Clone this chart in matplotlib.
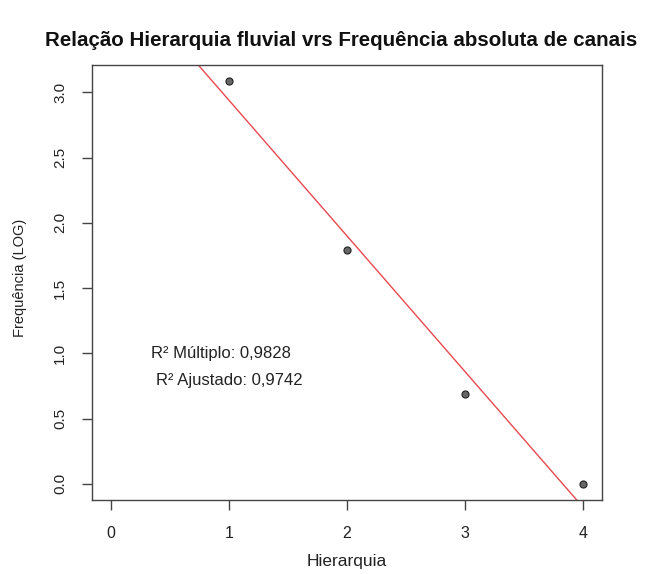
import numpy as np
import matplotlib
matplotlib.use("Agg")
import matplotlib.pyplot as plt

# dados
hierarquia = [1, 2, 3, 4]
freq_log = [3.09, 1.79, 0.69, 0.0]

# reta de regressao (lm)
intercepto = 3.98
inclinacao = -1.04

r2_texto = ["R² Múltiplo: 0,9828", "R² Ajustado: 0,9742"]
x_ticks = [0, 1, 2, 3, 4]
y_ticks = [0.0, 0.5, 1.0, 1.5, 2.0, 2.5, 3.0]

plt.rcParams['font.family'] = ['Liberation Sans', 'DejaVu Sans']
cor_eixo = '#444444'

fig = plt.figure(figsize=(6.45, 5.74), dpi=100)
ax = fig.add_axes([0.1426, 0.1289, 0.7907, 0.7579])

ax.axline((0, intercepto), slope=inclinacao, color='#e8494f', lw=1.0, zorder=2)
ax.scatter(hierarquia, freq_log, s=26, facecolor='#666666', edgecolor='#222222',
           linewidth=0.8, zorder=3)

ax.text(0.934, 1.0, r2_texto[0], ha='center', va='center', fontsize=12, color='#222222')
ax.text(1.0, 0.79, r2_texto[1], ha='center', va='center', fontsize=12, color='#222222')

ax.set_xlim(-0.16, 4.16)
ax.set_ylim(-0.124, 3.21)
ax.set_xticks(x_ticks)
ax.set_yticks(y_ticks)
ax.set_xticklabels([str(v) for v in x_ticks], fontsize=11.5)
ax.set_yticklabels(['%.1f' % v for v in y_ticks], rotation=90, va='center', fontsize=11)

for s in ax.spines.values():
    s.set_color(cor_eixo)
    s.set_linewidth(1.0)
ax.tick_params(axis='both', direction='out', length=7, width=1.0, color=cor_eixo,
               labelcolor='#222222')
ax.tick_params(axis='x', pad=12)
ax.tick_params(axis='y', pad=11)

ax.set_xlabel('Hierarquia', fontsize=12.5, color='#222222')
ax.xaxis.set_label_coords(0.5, -0.124)
ax.set_ylabel('Frequência (LOG)', fontsize=10.5, color='#222222')
ax.yaxis.set_label_coords(-0.127, 0.51)
fig.text(341 / 645, 1 - 40 / 574, 'Relação Hierarquia fluvial vrs Frequência absoluta de canais',
         ha='center', va='center', fontsize=14.8, fontweight='bold', color='#111111')

fig.savefig('out.png', dpi=100)
